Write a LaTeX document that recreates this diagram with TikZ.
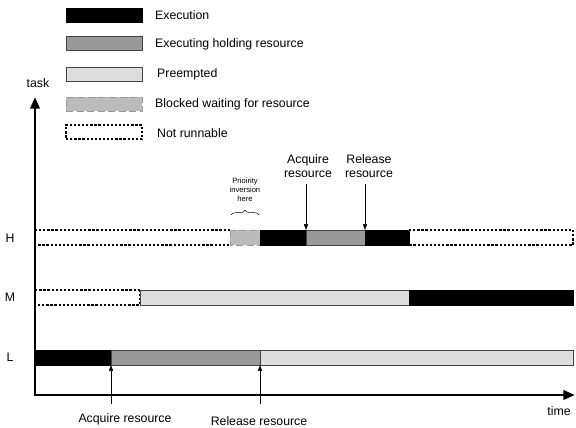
\documentclass[tikz,border=0pt]{standalone}
\usepackage{fontspec}
\setmainfont{Liberation Sans}
\usetikzlibrary{arrows.meta,decorations.pathreplacing}
\definecolor{holdgray}{HTML}{999999}
\definecolor{preemptgray}{HTML}{DDDDDD}
\definecolor{blockgray}{HTML}{BBBBBB}
\definecolor{edgegray}{HTML}{444444}

\begin{document}
\begin{tikzpicture}[x=0.03cm, y=-0.03cm, font=\fontsize{10.5}{12.5}\selectfont,
		exec_style/.style={fill=black,draw=black},
		hold_style/.style={fill=holdgray,draw=edgegray,thin},
		preempt_style/.style={fill=preemptgray,draw=edgegray,thin},
		block_style/.style={fill=blockgray,draw=holdgray,dash pattern=on 6pt off 3pt,thin},
		idle_style/.style={draw=black,line width=1.2pt,dash pattern=on 2pt off 1.5pt},
		key_style/.style={rectangle,minimum width=2.28cm,minimum height=0.42cm,inner sep=0pt},
		text_style/.style={anchor=west,inner sep=0pt},
		axis_style/.style={line width=2.3pt,-{Triangle[length=10pt,width=8pt]}},
		mark_style/.style={thin,-{Triangle[length=5pt,width=3.5pt]}}]

		\useasboundingbox (0,0) rectangle (576,428);

		% legend
		\node[key_style,exec_style] (k1) at (104,15) {};
		\node[key_style,hold_style] (k2) at (104,43) {};
		\node[key_style,preempt_style] (k3) at (104,74) {};
		\node[key_style,block_style] (k4) at (104,104) {};
		\node[key_style,idle_style] (k5) at (104,132) {};
		\node[text_style] (t1) at (155,15) {Execution};
		\node[text_style] (t2) at (155,44) {Executing holding resource};
		\node[text_style] (t3) at (157,74) {Preempted};
		\node[text_style] (t4) at (155,104) {Blocked waiting for resource};
		\node[text_style] (t5) at (157,133) {Not runnable};

		% axes
		\coordinate (o) at (35,395);
		\coordinate (ytop) at (35,97);
		\coordinate (xend) at (575,395);
		\node (task) at (38,83) {task};
		\node[inner sep=0pt] (time) at (559,411) {time};
		\node (H) at (10,238) {H};
		\node (M) at (10,297) {M};
		\node (L) at (10,357) {L};

		% task H
		\draw[idle_style] (230,230) -- (35,230) -- (35,245) -- (230,245);
		\draw[block_style] (230,230) rectangle (260,245);
		\draw[exec_style] (260,230) rectangle (306,245);
		\draw[hold_style] (306,230) rectangle (365,245);
		\draw[exec_style] (365,230) rectangle (409,245);
		\draw[idle_style] (409,230) -- (573,230) -- (573,245) -- (409,245) -- cycle;

		% task M
		\draw[idle_style] (140,290) -- (35,290) -- (35,305) -- (140,305) -- cycle;
		\draw[preempt_style] (140,290) rectangle (409,305);
		\draw[exec_style] (409,290) rectangle (573,305);

		% task L
		\draw[exec_style] (35,350) rectangle (111,365);
		\draw[hold_style] (111,350) rectangle (260,365);
		\draw[preempt_style] (260,350) rectangle (573,365);

		\draw[axis_style] (o) -- (ytop);
		\draw[axis_style] ([xshift=-1.15pt]o) -- (xend);

		% resource events
		\node[align=center,inner sep=0pt] (acqH) at (308,166) {Acquire\\resource};
		\node[align=center,inner sep=0pt] (relH) at (369,166) {Release\\resource};
		\coordinate (acqHend) at (306,230);
		\coordinate (relHend) at (365,230);
		\draw[mark_style] (306,184) -- (acqHend);
		\draw[mark_style] (365,184) -- (relHend);

		\node[inner sep=0pt] (acqL) at (125,419) {Acquire resource};
		\node[inner sep=0pt] (relL) at (259,421) {Release resource};
		\coordinate (acqLend) at (111,365);
		\coordinate (relLend) at (260,365);
		\draw[mark_style] (111,404) -- (acqLend);
		\draw[mark_style] (260,404) -- (relLend);

		% priority inversion
		\node[align=center,inner sep=0pt,font=\fontsize{6.5}{7.8}\selectfont] (inv) at (245,190) {Prioirity\\inversion\\here};
		\draw[decorate,decoration={brace,amplitude=4pt},thin] (231,215) -- (259,215);

\end{tikzpicture}
\end{document}
